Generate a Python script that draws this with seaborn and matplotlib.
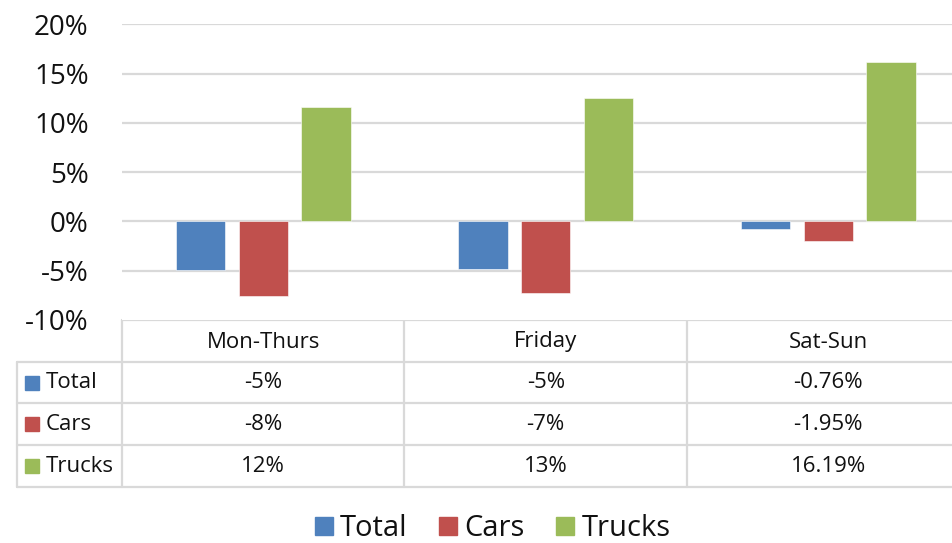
import numpy as np
import pandas as pd
import seaborn as sns
import matplotlib.pyplot as plt
from matplotlib.lines import Line2D

# data
periods = ["Mon-Thurs", "Friday", "Sat-Sun"]
series = ["Total", "Cars", "Trucks"]
total = [-4.9, -4.8, -0.76]
cars = [-7.6, -7.3, -1.95]
trucks = [11.6, 12.55, 16.19]
decimals = [0, 0, 2]  # how the data table shows each period
yticks = [-10, -5, 0, 5, 10, 15, 20]
colors = ["#4F81BD", "#C0504D", "#9BBB59"]

df = pd.DataFrame({"period": periods * 3,
                   "series": np.repeat(series, 3),
                   "change": total + cars + trucks})

sns.set_style("white")
plt.rcParams['font.family'] = ['Open Sans', 'DejaVu Sans']

W, H = 953, 543
fig = plt.figure(figsize=(W / 100, H / 100), dpi=100)

# layout in pixels
plot_left, col_w = 122, 282.5
y_top, y_bot = 24.3, 320
tab_left = 17
row_edges = [320, 362, 403, 445, 487]
grid_c = "#D9D9D9"
txt_c = "#111111"

ax = fig.add_axes([plot_left / W, 1 - y_bot / H, (W - plot_left) / W, (y_bot - y_top) / H])
sns.barplot(data=df, x="period", y="change", hue="series", palette=colors,
            width=0.665, gap=0.21, ax=ax, legend=False, saturation=1,
            edgecolor="white", linewidth=0.4)
ax.set_xlim(-0.5, -0.5 + (W - plot_left) / col_w)
ax.set_ylim(-10, 20)
ax.set_yticks(yticks)
ax.set_yticklabels([f"{t}%" for t in yticks], fontsize=20, color=txt_c)
ax.tick_params(axis="y", length=0, pad=24)
ax.set_xticks([])
ax.set_xlabel("")
ax.set_ylabel("")
for s in ax.spines.values():
    s.set_visible(False)
for t in yticks[1:]:
    ax.axhline(t, color=grid_c, lw=1.6, zorder=0)

# data table drawn in pixel coords
tab = fig.add_axes([0, 0, 1, 1], zorder=-1)
tab.set_xlim(0, W)
tab.set_ylim(H, 0)
tab.axis("off")
lw = 1.6
tab.plot([plot_left, W], [row_edges[0]] * 2, color=grid_c, lw=lw)
for y in row_edges[1:]:
    tab.plot([tab_left, W], [y, y], color=grid_c, lw=lw)
tab.plot([tab_left, tab_left], [row_edges[1], row_edges[-1]], color=grid_c, lw=lw)
for i in range(len(periods) + 1):
    x = plot_left + i * col_w
    tab.plot([x, x], [row_edges[0], row_edges[-1]], color=grid_c, lw=lw)

for i, p in enumerate(periods):
    cx = plot_left + (i + 0.5) * col_w
    tab.text(cx, (row_edges[0] + row_edges[1]) / 2 + 1, p, ha="center", va="center",
             fontsize=16, color=txt_c)
vals = [total, cars, trucks]
for r, name in enumerate(series):
    cy = (row_edges[r + 1] + row_edges[r + 2]) / 2
    tab.plot([32], [cy], marker="s", ms=10.5, color=colors[r], ls="")
    tab.text(46, cy, name, ha="left", va="center", fontsize=16, color=txt_c)
    for i in range(len(periods)):
        cx = plot_left + (i + 0.5) * col_w
        tab.text(cx, cy, f"{vals[r][i]:.{decimals[i]}f}%", ha="center", va="center",
                 fontsize=16, color=txt_c)

handles = [Line2D([], [], marker="s", ls="", ms=13, color=c) for c in colors]
fig.legend(handles, series, loc="center", bbox_to_anchor=(0.514, 1 - 529 / H), ncol=3,
           frameon=False, fontsize=21, handletextpad=0.05, columnspacing=0.9,
           handlelength=1.0, labelcolor=txt_c)

fig.savefig("out.png", dpi=100)
